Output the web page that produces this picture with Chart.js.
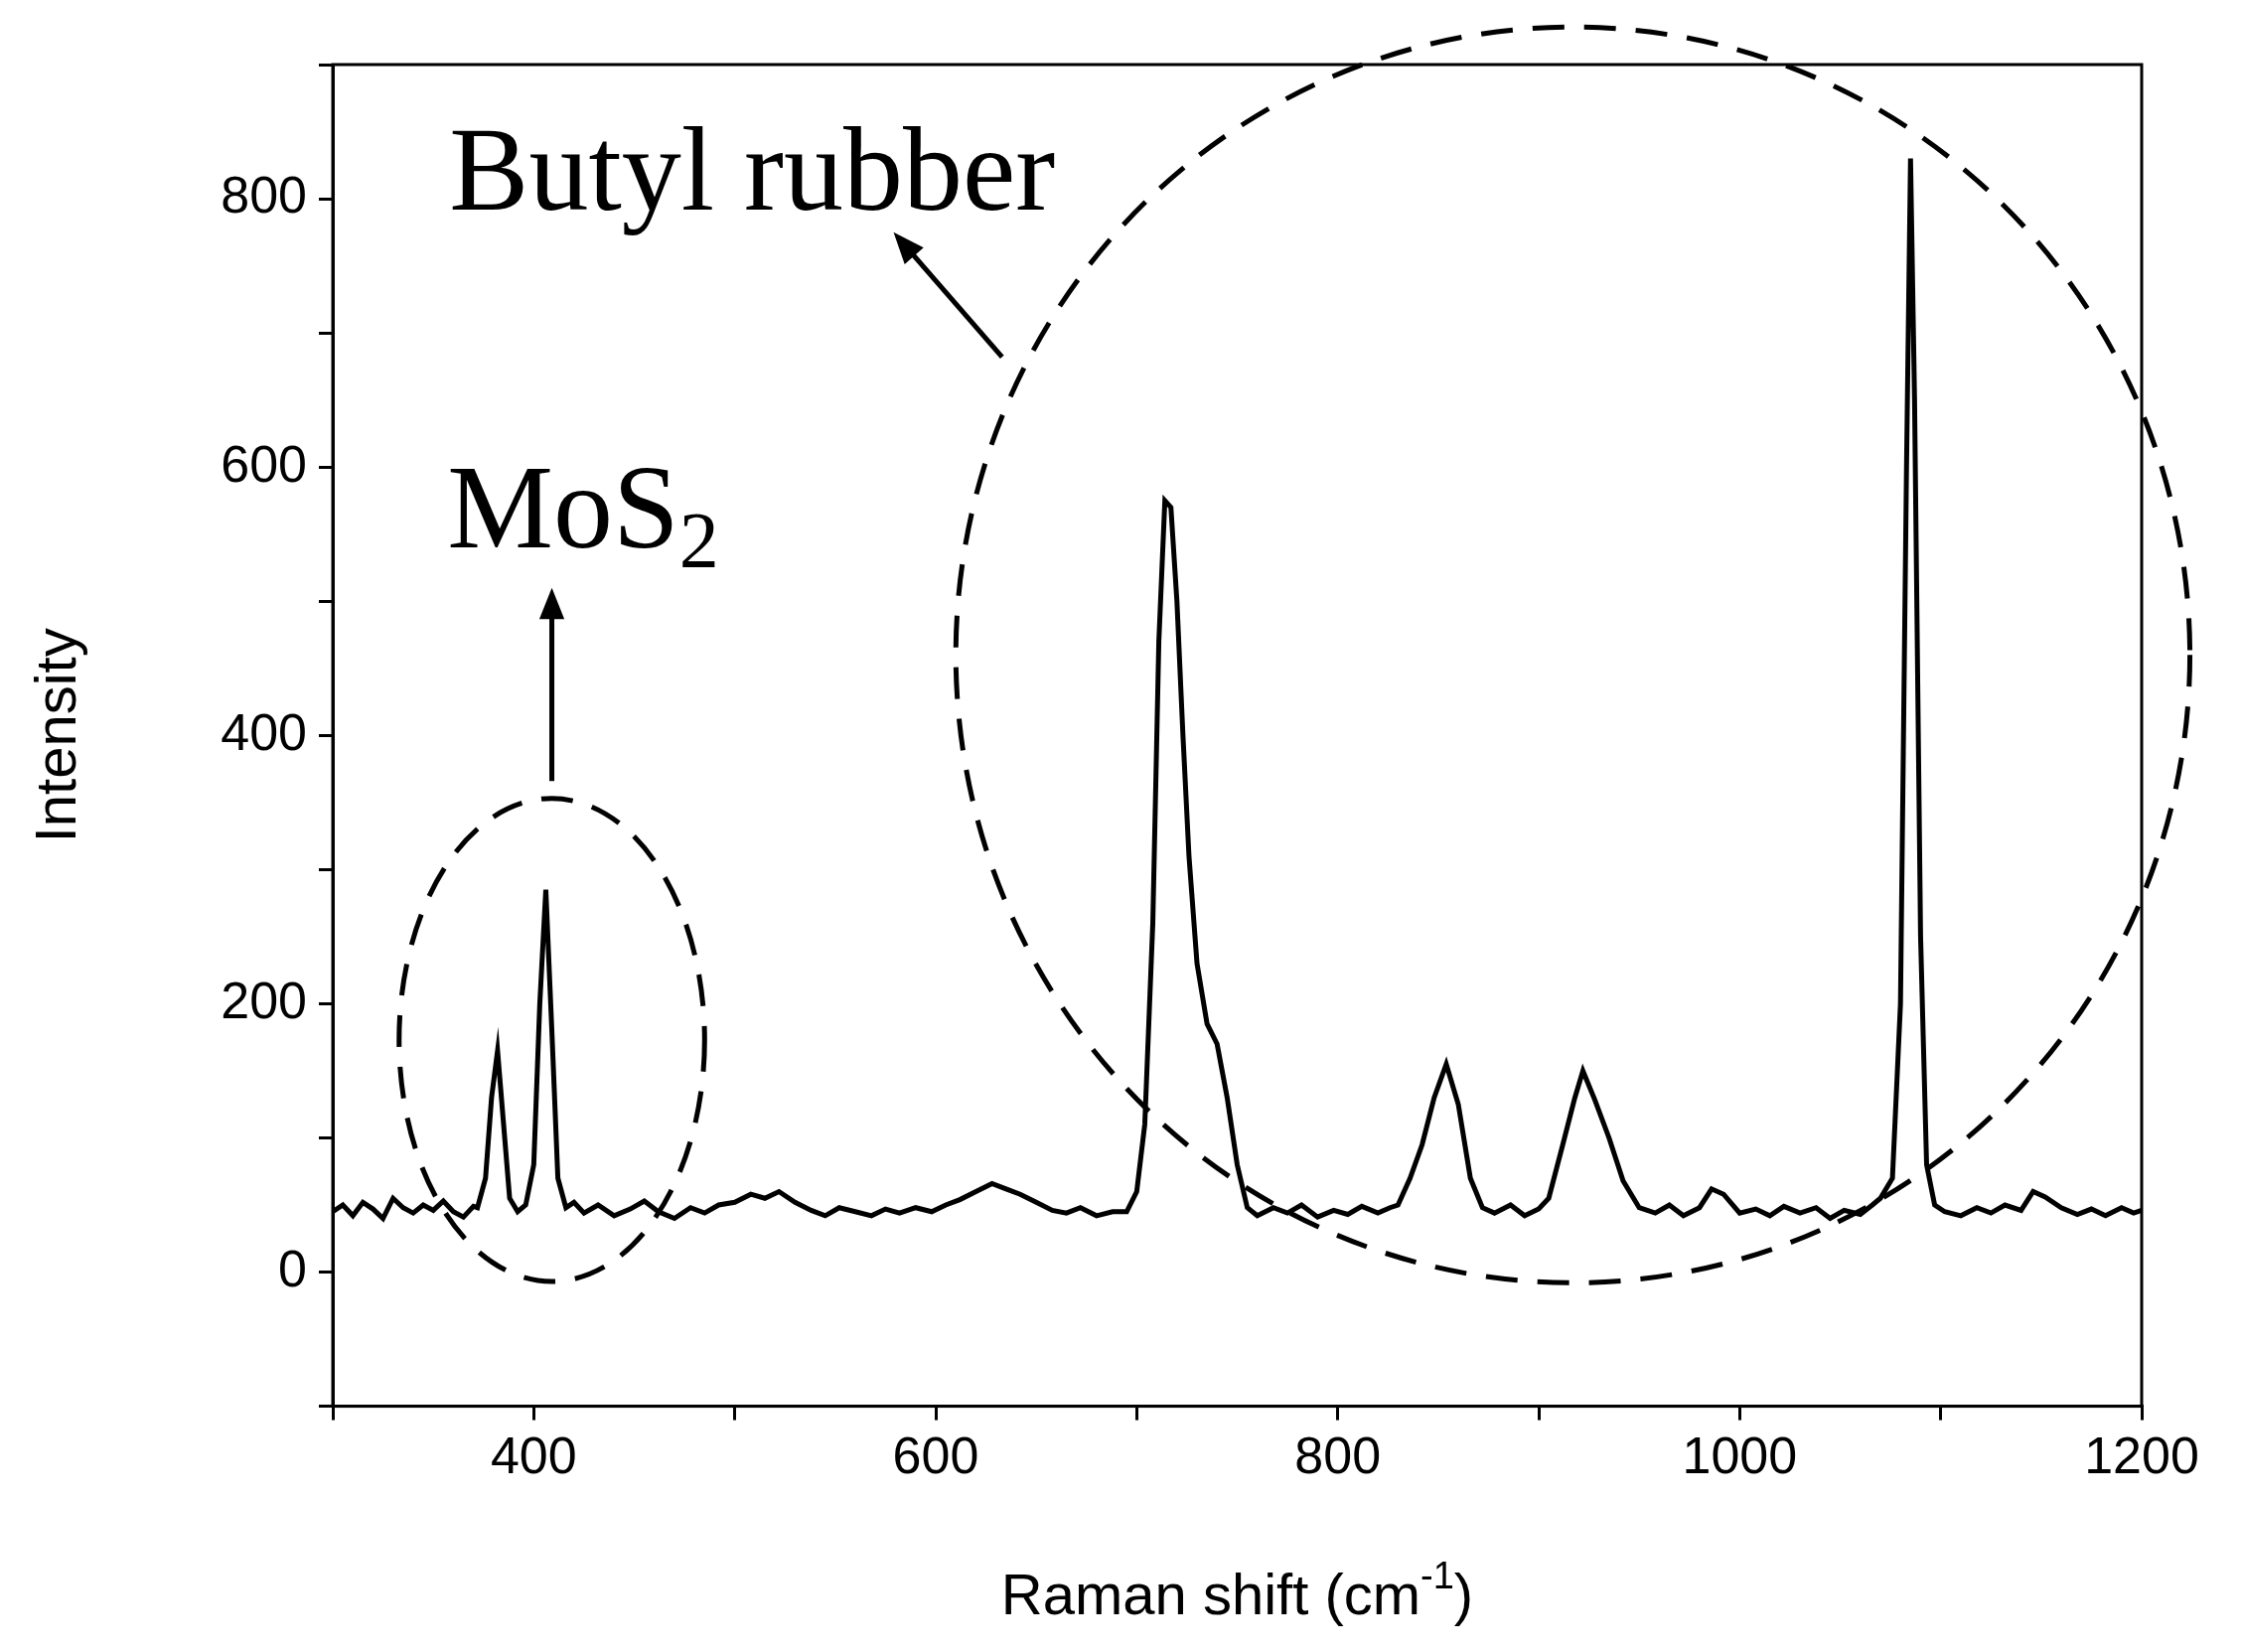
<!DOCTYPE html>
<html>
<head>
<meta charset="utf-8">
<script src="https://cdn.jsdelivr.net/npm/chart.js@4"></script>
<style>
  html, body { margin: 0; padding: 0; background: #fff; }
  #wrap { width: 2256px; height: 1663px; }
</style>
</head>
<body>
<div id="wrap"><canvas id="c" width="2256" height="1663"></canvas></div>
<script>
// Raman spectrum
const shift = [
  300,305,310,315,320,325,330,335,340,345,350,355,360,365,370,
  372,376,379,382,385,388,392,396,400,403,406,409,412,416,420,
  425,432,440,448,455,462,470,478,485,492,500,508,515,522,530,538,545,552,560,568,575,582,590,598,605,612,620,628,635,642,650,658,665,672,680,688,
  695,700,704,708,711,714,717,720,723,726,730,735,740,745,750,755,
  760,768,775,782,790,798,805,812,820,826,
  830,836,842,848,854,860,866,872,
  878,886,893,900,
  905,912,918,922,928,935,942,950,
  958,965,972,980,986,992,1000,1008,1015,1022,1030,1038,1045,1052,1060,1066,
  1070,1076,1080,1083,1085,1087,1090,1093,1097,
  1102,1110,1118,1125,1132,1140,1146,1152,1160,1168,1175,1182,1190,1196,1200
];
const intensity = [
  45,50,42,52,47,40,55,48,44,50,46,53,45,41,49,
  48,70,130,165,110,55,45,50,80,200,285,180,70,48,52,
  44,50,42,47,53,45,40,48,44,50,52,58,55,60,52,46,42,48,45,42,47,44,48,45,50,54,60,66,62,58,52,46,44,48,42,45,
  45,60,110,260,470,575,570,500,400,310,230,185,170,130,80,48,
  42,48,44,50,41,46,43,49,44,48,
  50,70,95,130,155,125,70,48,
  44,50,42,47,
  55,95,130,150,128,100,68,48,
  44,50,42,48,62,58,44,47,42,49,44,48,40,46,43,50,
  55,70,200,600,830,650,250,80,50,
  45,42,48,44,50,46,60,56,48,43,47,42,48,44,46
];
const xTicks = [400, 600, 800, 1000, 1200];
const yTicks = [0, 200, 400, 600, 800];

const points = shift.map((x, i) => ({x: x, y: intensity[i]}));

function ellipse(ctx, xs, ys, cx, cy, rx, ry) {
  const px = xs.getPixelForValue(cx), py = ys.getPixelForValue(cy);
  const prx = Math.abs(xs.getPixelForValue(cx + rx) - px);
  const pry = Math.abs(ys.getPixelForValue(cy + ry) - py);
  ctx.beginPath();
  ctx.ellipse(px, py, prx, pry, 0, 0, Math.PI * 2);
  ctx.stroke();
}
function arrow(ctx, xs, ys, x1, y1, x2, y2) {
  const ax = xs.getPixelForValue(x1), ay = ys.getPixelForValue(y1);
  const bx = xs.getPixelForValue(x2), by = ys.getPixelForValue(y2);
  const ang = Math.atan2(by - ay, bx - ax);
  ctx.beginPath(); ctx.moveTo(ax, ay); ctx.lineTo(bx - 20 * Math.cos(ang), by - 20 * Math.sin(ang)); ctx.stroke();
  ctx.beginPath();
  ctx.moveTo(bx, by);
  ctx.lineTo(bx - 34 * Math.cos(ang - 0.38), by - 34 * Math.sin(ang - 0.38));
  ctx.lineTo(bx - 34 * Math.cos(ang + 0.38), by - 34 * Math.sin(ang + 0.38));
  ctx.closePath(); ctx.fill();
}

const annotations = {
  id: 'annotations',
  afterDraw(chart) {
    const ctx = chart.ctx, xs = chart.scales.x, ys = chart.scales.y, a = chart.chartArea;
    ctx.save();
    ctx.strokeStyle = '#000'; ctx.fillStyle = '#000';
    // frame
    ctx.lineWidth = 3;
    ctx.strokeRect(a.left, a.top, a.right - a.left, a.bottom - a.top);
    // dashed ellipses
    ctx.lineWidth = 5;
    ctx.setLineDash([32, 20]);
    ellipse(ctx, xs, ys, 409, 173, 76, 180);
    ellipse(ctx, xs, ys, 917, 460, 307, 468);
    ctx.setLineDash([]);
    arrow(ctx, xs, ys, 409, 366, 409, 510);
    arrow(ctx, xs, ys, 633, 682, 579, 775);
    // labels
    ctx.font = '120px "Liberation Serif"';
    ctx.textBaseline = 'alphabetic';
    ctx.fillText('Butyl rubber', xs.getPixelForValue(358), ys.getPixelForValue(792));
    const mx = xs.getPixelForValue(357), my = ys.getPixelForValue(540);
    ctx.fillText('MoS', mx, my);
    const w = ctx.measureText('MoS').width;
    ctx.font = '80px "Liberation Serif"';
    ctx.fillText('2', mx + w, my + 20);
    // axis title with superscript
    const t1 = 'Raman shift (cm', t3 = ')';
    ctx.font = '58px "Liberation Sans"';
    const w1 = ctx.measureText(t1).width;
    ctx.font = '38px "Liberation Sans"';
    const w2 = ctx.measureText('-1').width;
    ctx.font = '58px "Liberation Sans"';
    const w3 = ctx.measureText(t3).width;
    const sx = (a.left + a.right) / 2 - (w1 + w2 + w3) / 2;
    const sy = 1625;
    ctx.fillText(t1, sx, sy);
    ctx.font = '38px "Liberation Sans"';
    ctx.fillText('-1', sx + w1, sy - 26);
    ctx.font = '58px "Liberation Sans"';
    ctx.fillText(t3, sx + w1 + w2, sy);
    ctx.restore();
  }
};

new Chart(document.getElementById('c'), {
  type: 'line',
  data: { datasets: [{ data: points, borderColor: '#000', borderWidth: 5, pointRadius: 0, tension: 0 }] },
  options: {
    responsive: false, animation: false,
    layout: { padding: { left: 0, right: 100, top: 65, bottom: 155 } },
    plugins: { legend: { display: false }, tooltip: { enabled: false } },
    scales: {
      x: {
        type: 'linear', min: 300, max: 1200,
        afterBuildTicks: s => { s.ticks = []; for (let v = 300; v <= 1200; v += 100) s.ticks.push({value: v}); },
        grid: { drawOnChartArea: false, color: '#000', lineWidth: 3, tickLength: 14 },
        border: { color: '#000', width: 3 },
        ticks: { color: '#000', font: { family: 'Liberation Sans', size: 52 }, maxRotation: 0, padding: 8,
          callback: v => xTicks.includes(v) ? v : '' }
      },
      y: {
        min: -100, max: 900,
        afterBuildTicks: s => { s.ticks = []; for (let v = -100; v <= 900; v += 100) s.ticks.push({value: v}); },
        afterFit: s => { s.width = 335; },
        grid: { drawOnChartArea: false, color: '#000', lineWidth: 3, tickLength: 14 },
        border: { color: '#000', width: 3 },
        ticks: { color: '#000', font: { family: 'Liberation Sans', size: 52 }, padding: 12,
          callback: v => yTicks.includes(v) ? v : '' },
        title: { display: true, text: 'Intensity', color: '#000', font: { family: 'Liberation Sans', size: 58 }, padding: { top: 25, bottom: 20 } }
      }
    }
  },
  plugins: [annotations]
});
</script>
</body>
</html>
